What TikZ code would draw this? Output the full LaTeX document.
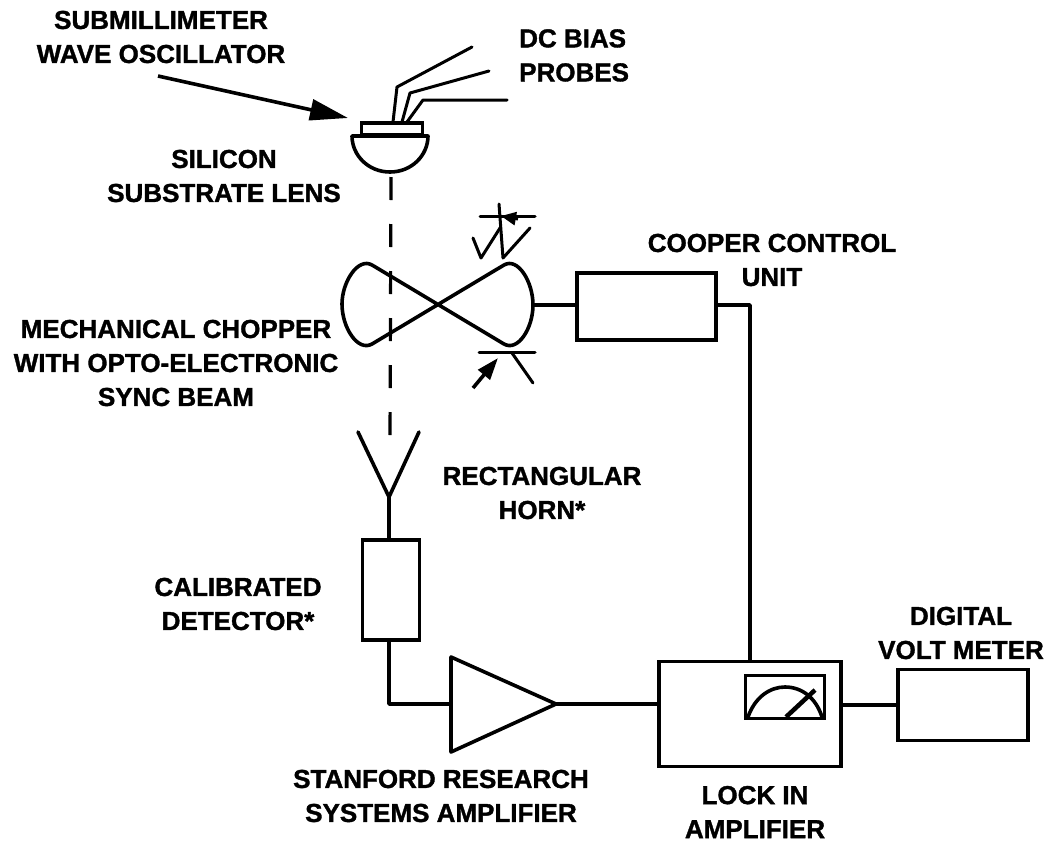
\documentclass[tikz,border=0pt]{standalone}
\usepackage{fontspec}
\setmainfont{Liberation Sans}[BoldFeatures={FakeBold=1.3}]
\usepackage{tikz}
\usetikzlibrary{arrows.meta, positioning}
\tikzset{
  wire/.style={line width=3.6pt, line join=round, line cap=round},
  thin wire/.style={line width=3pt, line join=round, line cap=round},
  box/.style={draw, line width=3.6pt, inner sep=0pt, rectangle},
  label/.style={font=\fontsize{26}{34}\selectfont\bfseries, align=center, inner sep=0pt},
  beam/.style={line width=3.2pt, dash pattern=on 23pt off 24pt},
  pointer/.style={line width=3.6pt, -{Triangle[length=#1, width=0.55*#1]}},
}

\begin{document}
\begin{tikzpicture}[x=1pt, y=-1pt]
  \useasboundingbox (0,0) rectangle (1049,846);

  % boxes
  \node [box, minimum width=139pt, minimum height=67pt] (CCU) at (646.5,306.5) {};
  \node [box, minimum width=57pt, minimum height=100pt] (DET) at (391,590) {};
  \node [box, minimum width=182pt, minimum height=105pt] (LIA) at (750,714) {};
  \node [box, minimum width=79pt, minimum height=43pt] (MTR) at (785,697) {};
  \node [box, minimum width=130pt, minimum height=71pt] (DVM) at (963,705) {};

  % lens and probes
  \coordinate (LB) at (390,172);
  \node [box, minimum width=61pt, minimum height=12pt] (SUB) at (392,129) {};
  \draw [wire] (352,136) -- (428,136) .. controls (428,155) and (412,172) .. (LB)
    .. controls (368,172) and (352,155) .. (352,136);
  \draw [thin wire] (393,122) -- (397,87) -- (472,47);
  \draw [thin wire] (402,122) -- (410,93) -- (489,71);
  \draw [thin wire] (407,122) -- (423,100) -- (507,100);
  \coordinate (OSC) at (158,76);
  \coordinate (TIP) at (348,118);
  \draw [pointer=38pt] (OSC) -- (TIP);

  % chopper
  \coordinate (C1) at (372,265);
  \coordinate (C2) at (372,344);
  \coordinate (C3) at (504,265);
  \coordinate (C4) at (504,344);
  \coordinate (CL) at (342,304);
  \coordinate (CR) at (533,305);
  \draw [wire] (C1) -- (C4) .. controls (518,352) and (533,328) .. (CR)
    .. controls (533,282) and (518,257) .. (C3) -- (C2)
    .. controls (358,352) and (342,328) .. (CL)
    .. controls (342,282) and (358,257) .. (C1);

  % sync beam
  \draw [thin wire] (480,216) -- (535,216);
  \draw [thin wire] (499,204) -- (503,258) -- (530,228);
  \draw [thin wire] (473,238) -- (481,258) -- (500,228);
  \coordinate (SA) at (518,219);
  \coordinate (SB) at (501,216);
  \draw [line width=3pt, -{Triangle[length=15pt, width=13pt]}] (SA) -- (SB);
  \draw [thin wire] (479,352) -- (535,352);
  \draw [thin wire] (512,353) -- (533,383);
  \coordinate (SC) at (473,388);
  \coordinate (SD) at (498,358);
  \draw [line width=3.6pt, -{Triangle[length=22pt, width=15pt]}] (SC) -- (SD);

  % horn and amplifier
  \coordinate (HL) at (358,432);
  \coordinate (HR) at (419,432);
  \coordinate (HB) at (389,497);
  \draw [wire] (HL) -- (HB) -- (HR);
  \coordinate (AT) at (451,657);
  \coordinate (AB) at (451,752);
  \coordinate (AP) at (556,704);
  \coordinate (AL) at (451,704);
  \draw [wire] (AT) -- (AP) -- (AB) -- cycle;

  % meter face
  \coordinate (M1) at (748,717);
  \coordinate (M2) at (822,717);
  \coordinate (N1) at (786,717);
  \coordinate (N2) at (815,690);
  \draw [wire] (M1) .. controls (755,697) and (770,687) .. (785,687)
    .. controls (802,687) and (816,698) .. (M2);
  \draw [line width=4.5pt] (N1) -- (N2);

  % wires
  \draw [wire] (HB) -- (HB |- DET.north);
  \draw [wire] (HB |- DET.south) |- (AL);
  \draw [wire] (AP) -- (LIA.west |- AP);
  \draw [wire] (CR) -- (CR -| CCU.west);
  \draw [wire] (CCU.east |- CR) -| (LIA.north);
  \draw [wire] (LIA.east |- DVM.west) -- (DVM.west);

  % beam
  \coordinate (BT) at (391,177);
  \coordinate (BB) at (390,440);
  \draw [beam] (BT) -- (BB);

  % labels
  \node [label] (LOSC) at (161,37) {SUBMILLIMETER\\WAVE OSCILLATOR};
  \node [label, align=left, anchor=north west] (LDC) at (519,29) {DC BIAS\\PROBES};
  \node [label] (LSI) at (224,176) {SILICON\\SUBSTRATE LENS};
  \node [label] (LCC) at (772,260) {COOPER CONTROL\\UNIT};
  \node [label] (LCH) at (176,363) {MECHANICAL CHOPPER\\WITH OPTO-ELECTRONIC\\SYNC BEAM};
  \node [label] (LHN) at (542,493) {RECTANGULAR\\HORN*};
  \node [label] (LDT) at (238,604) {CALIBRATED\\DETECTOR*};
  \node [label] (LDV) at (961,633) {DIGITAL\\VOLT METER};
  \node [label] (LAM) at (441,796) {STANFORD RESEARCH\\SYSTEMS AMPLIFIER};
  \node [label] (LLK) at (755,812) {LOCK IN\\AMPLIFIER};
\end{tikzpicture}
\end{document}
